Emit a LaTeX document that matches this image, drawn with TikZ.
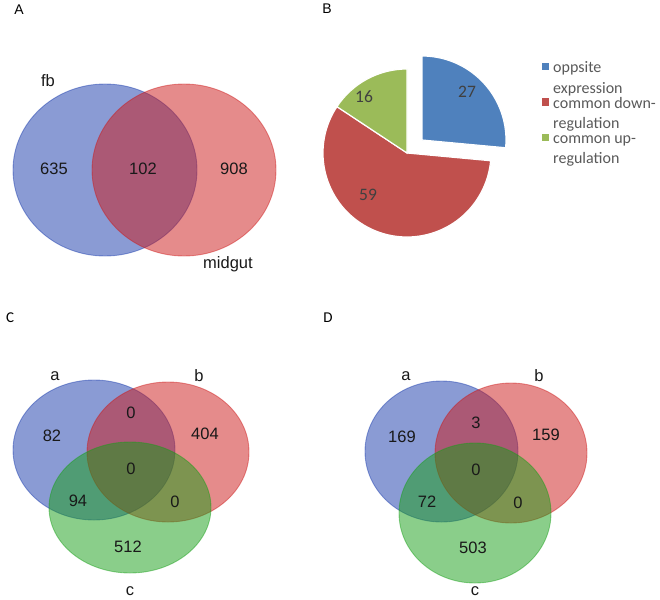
\documentclass[tikz,border=0pt]{standalone}
\usepackage{fontspec}
\setmainfont{Liberation Sans}
\newfontfamily\calib{Carlito}
\definecolor{vb}{RGB}{22,56,170}
\definecolor{vr}{RGB}{204,24,24}
\definecolor{vg}{RGB}{22,158,22}
\definecolor{pb}{HTML}{4F81BD}
\definecolor{pr}{HTML}{C0504D}
\definecolor{pg}{HTML}{9BBB59}
\definecolor{lbl}{HTML}{404040}
\definecolor{leg}{HTML}{595959}
\newcommand{\plab}[1]{\fontsize{14}{16}\selectfont #1}
\newcommand{\plabc}[1]{\calib\fontsize{15}{17}\selectfont #1}
\begin{document}
\begin{tikzpicture}[x=1pt,y=-1pt,
  vset/.style={fill=#1, fill opacity=0.5, draw=#1, draw opacity=0.45, line width=0.9pt},
  num/.style={font=\fontsize{16.5}{18}\selectfont, text=black!90, inner sep=0pt},
  panellab/.style={text=black, inner sep=0pt},
  slice/.style={fill=#1, draw=white, line width=1.2pt},
  plabel/.style={font=\calib\fontsize{17.5}{20}\selectfont, text=lbl, inner sep=0pt},
  legtext/.style={font=\calib\fontsize{16}{18}\selectfont, text=leg, inner sep=0pt, anchor=base west},
  legbox/.style={fill=#1, minimum size=7pt, inner sep=0pt}
]
\useasboundingbox (0,0) rectangle (660,599);

% ---------- panel labels
\node[panellab] (lA) at (19,10) {\plab{A}};
\node[panellab] (lB) at (327,9) {\plab{B}};
\node[panellab] (lC) at (10,318) {\plabc{C}};
\node[panellab] (lD) at (328,318) {\plabc{D}};

% ---------- panel A
\path[vset=vb] (105,170) ellipse [x radius=92, y radius=86];
\path[vset=vr] (184,170) ellipse [x radius=92, y radius=86];
\node[num] (fb) at (48,81) {fb};
\node[num] (a635) at (54,169) {635};
\node[num] (a102) at (143,169) {102};
\node[num] (a908) at (234,169) {908};
\node[num] (mid) at (228,264) {midgut};

% ---------- panel B (pie)
\coordinate (pc) at (407,153);
\coordinate (pcb) at (422,140);
\path[slice=pr] (pc) -- ++(-146.5:84) arc[start angle=-146.5, end angle=-354.7, radius=84] -- cycle;
\path[slice=pg] (pc) -- ++(-90:84) arc[start angle=-90, end angle=-146.5, radius=84] -- cycle;
\path[slice=pb] (pcb) -- ++(5.3:84) arc[start angle=5.3, end angle=-90, radius=84] -- cycle;
\node[plabel] (p27) at (467,92) {27};
\node[plabel] (p16) at (364,97) {16};
\node[plabel] (p59) at (368,195) {59};

\node[legbox=pb] (k1) at (545,67) {};
\node[legbox=pr] (k2) at (545,102) {};
\node[legbox=pg] (k3) at (545,137) {};
\node[legtext] (t1) at (553,73) {oppsite};
\node[legtext] (t1b) at (553,93) {expression};
\node[legtext] (t2) at (553,108) {common down-};
\node[legtext] (t2b) at (553,128) {regulation};
\node[legtext] (t3) at (553,143) {common up-};
\node[legtext] (t3b) at (553,163) {regulation};

% ---------- panel C
\path[vset=vb] (94,450) ellipse [x radius=81, y radius=70];
\path[vset=vr] (168,452) ellipse [x radius=81, y radius=70];
\path[vset=vg] (130,507.5) ellipse [x radius=81, y radius=65.5];
\node[num] (ca) at (55,376) {a};
\node[num] (cb) at (199,376) {b};
\node[num] (cc) at (130,591) {c};
\node[num] (c82) at (52,436) {82};
\node[num] (c0ab) at (131,413) {0};
\node[num] (c404) at (205,434) {404};
\node[num] (c0abc) at (131,469) {0};
\node[num] (c94) at (78,501) {94};
\node[num] (c0bc) at (175,502) {0};
\node[num] (c512) at (128,547) {512};

% ---------- panel D
\path[vset=vb] (441.5,451.5) ellipse [x radius=76.5, y radius=70.5];
\path[vset=vr] (511,453) ellipse [x radius=76, y radius=70];
\path[vset=vg] (475,513) ellipse [x radius=76, y radius=70];
\node[num] (da) at (406,376) {a};
\node[num] (db) at (539,376) {b};
\node[num] (dc) at (475,591) {c};
\node[num] (d169) at (402,437) {169};
\node[num] (d3) at (476,423) {3};
\node[num] (d159) at (546,435) {159};
\node[num] (d0abc) at (476,470) {0};
\node[num] (d72) at (427,502) {72};
\node[num] (d0bc) at (518,503) {0};
\node[num] (d503) at (473,548) {503};
\end{tikzpicture}
\end{document}
